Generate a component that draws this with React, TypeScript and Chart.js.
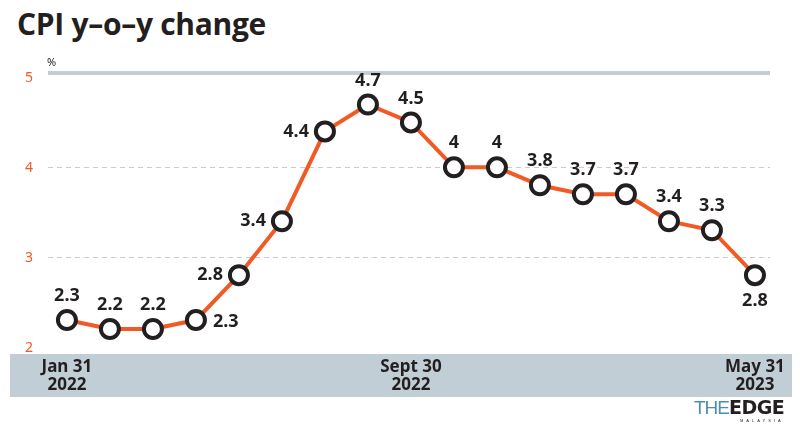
import React, { useEffect, useRef } from "react";
import { Chart, registerables } from "chart.js";

Chart.register(...registerables);

const categories = [
  "Jan 2022", "Feb 2022", "Mar 2022", "Apr 2022", "May 2022", "Jun 2022",
  "Jul 2022", "Aug 2022", "Sep 2022", "Oct 2022", "Nov 2022", "Dec 2022",
  "Jan 2023", "Feb 2023", "Mar 2023", "Apr 2023", "May 2023",
];
const cpiValues = [2.3, 2.2, 2.2, 2.3, 2.8, 3.4, 4.4, 4.7, 4.5, 4.0, 4.0, 3.8, 3.7, 3.7, 3.4, 3.3, 2.8];
const valueLabels = ["2.3", "2.2", "2.2", "2.3", "2.8", "3.4", "4.4", "4.7", "4.5", "4", "4", "3.8", "3.7", "3.7", "3.4", "3.3", "2.8"];
const labelSide = ["top", "top", "top", "right", "left", "left", "left", "top", "top", "top", "top", "top", "top", "top", "top", "top", "bottom"];
const yTicks = [2, 3, 4, 5];
const xTickIdx = [0, 8, 16];
const xTickLabels = [["Jan 31", "2022"], ["Sept 30", "2022"], ["May 31", "2023"]];

const ORANGE = "#f15a24";
const DARK = "#231f20";
const FONT = "'Noto Sans', 'Open Sans', sans-serif";

const decor = {
  id: "decor",
  beforeDatasetsDraw(chart: any) {
    const { ctx, chartArea, scales } = chart;
    const y = scales.y;
    const x = scales.x;
    ctx.save();
    // bottom band
    ctx.fillStyle = "#c1ced5";
    ctx.fillRect(10, 354, 782, 43);
    // grid lines
    ctx.strokeStyle = "#cccccc";
    ctx.lineWidth = 1;
    ctx.setLineDash([5, 4]);
    [3, 4].forEach((v) => {
      const py = Math.round(y.getPixelForValue(v)) + 0.5;
      ctx.beginPath();
      ctx.moveTo(chartArea.left, py);
      ctx.lineTo(chartArea.right, py);
      ctx.stroke();
    });
    ctx.setLineDash([]);
    // top thick line
    ctx.strokeStyle = "#c2ced4";
    ctx.lineWidth = 4;
    ctx.beginPath();
    ctx.moveTo(chartArea.left, chartArea.top);
    ctx.lineTo(chartArea.right, chartArea.top);
    ctx.stroke();
    // y tick labels
    ctx.fillStyle = ORANGE;
    ctx.font = `14px ${FONT}`;
    ctx.textAlign = "center";
    ctx.textBaseline = "middle";
    yTicks.forEach((v) => {
      ctx.fillText(String(v), 29, y.getPixelForValue(v) + 1);
    });
    // percent sign
    ctx.fillStyle = DARK;
    ctx.font = `11px ${FONT}`;
    ctx.textAlign = "left";
    ctx.fillText("%", 47, 63);
    // x labels
    ctx.font = `bold 17px ${FONT}`;
    ctx.textAlign = "center";
    xTickIdx.forEach((idx, k) => {
      const px = x.getPixelForValue(idx);
      ctx.fillText(xTickLabels[k][0], px, 367);
      ctx.fillText(xTickLabels[k][1], px, 385);
    });
    ctx.restore();
  },
  afterDatasetsDraw(chart: any) {
    const { ctx } = chart;
    const meta = chart.getDatasetMeta(0);
    ctx.save();
    ctx.fillStyle = DARK;
    ctx.font = `bold 18px ${FONT}`;
    ctx.textBaseline = "middle";
    meta.data.forEach((pt: any, i: number) => {
      const side = labelSide[i];
      let tx = pt.x;
      let ty = pt.y;
      ctx.textAlign = "center";
      if (side === "top") ty -= 24;
      else if (side === "bottom") ty += 26;
      else if (side === "right") { tx += 17; ctx.textAlign = "left"; ty += 2; }
      else if (side === "left") { tx -= 16; ctx.textAlign = "right"; }
      ctx.fillText(valueLabels[i], tx, ty);
    });
    ctx.restore();
  },
};

export default function App() {
  const ref = useRef<HTMLCanvasElement | null>(null);
  useEffect(() => {
    document.body.style.margin = "0";
    const chart = new Chart(ref.current as HTMLCanvasElement, {
      type: "line",
      data: {
        labels: categories,
        datasets: [
          {
            data: cpiValues.map((v, i) => ({ x: i, y: v })),
            borderColor: ORANGE,
            borderWidth: 4,
            pointRadius: 9,
            pointBorderWidth: 4,
            pointBackgroundColor: "#ffffff",
            pointBorderColor: DARK,
            tension: 0,
          },
        ],
      },
      options: {
        responsive: false,
        animation: false,
        layout: { padding: { left: 48, right: 30, top: 73, bottom: 79 } },
        plugins: { legend: { display: false }, tooltip: { enabled: false } },
        scales: {
          x: { type: "linear", min: -0.44, max: 16.35, display: false },
          y: { min: 2, max: 5.05, display: false },
        },
      },
      plugins: [decor],
    });
    return () => chart.destroy();
  }, []);
  return (
    <div style={{ position: "relative", width: 800, height: 426, background: "#fff", overflow: "hidden" }}>
      <div style={{ position: "absolute", left: 17, top: 5, fontFamily: "'Open Sans', sans-serif", fontWeight: 700, fontSize: 30, color: DARK, letterSpacing: -0.3, lineHeight: "38px" }}>
        CPI y–o–y change
      </div>
      <canvas ref={ref} width={800} height={426} style={{ position: "absolute", left: 0, top: 0 }} />
      <div style={{ position: "absolute", left: 694, top: 397, lineHeight: "20px", fontFamily: "'Liberation Sans', sans-serif", whiteSpace: "nowrap" }}>
        <span style={{ color: "#4e8fb0", fontSize: 19, letterSpacing: -1, fontWeight: 300 }}>THE</span>
        <span style={{ color: DARK, fontSize: 19, fontWeight: 900, letterSpacing: -0.5, fontFamily: "'DejaVu Sans', sans-serif" }}>EDGE</span>
        <div style={{ fontSize: 4, letterSpacing: 3, color: DARK, lineHeight: "4px", paddingLeft: 46 }}>MALAYSIA</div>
      </div>
    </div>
  );
}
